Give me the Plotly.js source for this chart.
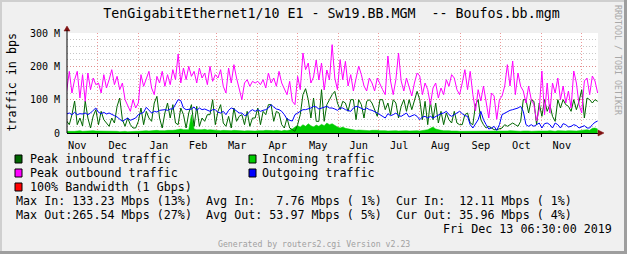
<!DOCTYPE html>
<html>
<head>
<meta charset="utf-8">
<script src="https://cdn.plot.ly/plotly-3.0.1.min.js"></script>
<style>html,body{margin:0;padding:0;background:#f0f0f0;}#chart{width:627px;height:254px;}</style>
</head>
<body>
<div id="chart"></div>
<script>
// ---- data (Mbps), one sample every 2 days starting 2018-11-08 ----
const startDate = '2018-11-08';
const stepDays = 2;
const monthLabels = ['Nov','Dec','Jan','Feb','Mar','Apr','May','Jun','Jul','Aug','Sep','Oct','Nov'];

const peakIn = [
  36,25,55,96,25,45,21,96,45,15,51,70,
  25,65,40,30,20,45,30,80,105,40,20,45,25,15,15,
  35,75,25,65,45,35,90,110,45,15,60,90,45,85,30,25,
  75,55,15,60,85,20,80,20,45,35,55,55,100,25,
  65,85,30,20,50,15,75,35,50,55,25,65,20,45,45,
  75,25,65,55,85,85,35,65,60,25,15,45,15,10,5,
  25,55,115,133,100,45,105,35,35,130,35,85,100,115,125,90,
  70,95,90,65,100,100,40,100,85,45,95,100,90,70,50,
  100,100,70,90,55,100,90,45,80,100,65,100,70,100,125,
  100,40,95,25,95,40,90,30,65,25,60,40,30,65,30,25,
  25,55,60,30,25,85,100,40,25,15,20,15,10,10,12,
  15,25,20,25,30,25,20,35,100,100,60,100,95,25,90,
  50,100,65,85,50,35,100,75,100,85,80,65,100,70,95,
  130,45,105,100,90,100,95
];
const incoming = [
  5,6,5,5,6,7,5,6,5,6,7,6,
  6,5,6,7,6,5,6,5,4,5,5,4,5,4,5,
  5,6,6,7,6,7,6,8,7,6,7,8,7,8,9,10,
  12,10,9,10,55,12,10,9,10,11,9,10,9,8,
  8,7,8,7,6,7,8,7,6,7,6,7,6,7,6,
  7,6,7,8,7,6,7,8,7,6,8,7,9,12,18,
  22,18,25,20,28,22,18,24,20,26,22,30,25,28,22,18,
  15,18,14,12,10,9,8,9,8,7,8,7,8,9,8,
  7,8,7,6,7,8,7,6,7,8,7,6,7,8,7,
  6,7,8,10,14,18,12,9,8,7,8,7,6,7,6,5,
  5,6,5,6,5,4,5,6,5,4,5,4,5,6,5,
  6,5,6,7,6,5,6,5,6,7,6,5,6,5,6,
  6,5,6,7,6,5,7,6,5,6,7,6,5,6,7,
  8,9,10,8,14,15,12
];
const peakOut = [
  125,185,120,160,185,105,175,95,180,130,165,145,
  150,120,175,135,160,190,145,170,130,150,100,80,65,100,75,
  90,175,140,165,185,135,115,170,150,185,140,175,145,190,160,237,
  150,195,160,200,170,185,150,195,165,180,145,200,155,175,
  165,190,140,120,195,150,205,165,130,100,150,160,140,155,150,
  155,145,160,135,180,150,165,140,185,150,130,115,155,95,85,
  170,130,240,190,210,150,168,219,159,210,129,189,159,265,165,130,
  220,160,215,141,175,126,165,201,175,141,126,165,150,126,165,
  145,130,115,231,156,115,160,240,156,126,165,135,111,150,180,
  171,115,150,130,85,135,150,105,135,115,160,140,175,165,130,115,
  150,190,130,185,115,66,130,96,141,90,45,120,111,41,100,
  111,141,205,141,216,115,180,140,126,90,141,100,85,36,70,
  186,55,150,60,150,120,165,100,141,90,126,75,186,150,85,
  60,156,165,115,171,156,120
];
const outgoing = [
  57,60,55,62,55,58,57,60,55,60,68,75,
  62,58,62,57,60,55,52,48,42,35,40,45,38,42,45,
  55,58,62,77,68,60,65,63,68,70,70,68,72,72,85,100,
  97,75,70,70,72,78,68,75,70,72,68,65,70,70,
  62,60,65,55,68,75,72,65,60,60,52,55,65,70,65,
  70,65,68,70,75,85,78,72,70,65,55,42,38,36,55,
  60,65,70,70,72,75,80,78,72,75,78,80,75,75,72,68,
  75,75,70,68,65,75,80,78,75,70,75,70,68,65,60,
  55,50,45,58,52,55,60,52,50,55,60,48,52,55,50,
  40,48,50,45,50,45,50,55,58,60,65,55,50,55,60,65,
  58,52,50,25,15,28,40,65,40,25,12,15,20,8,25,
  55,60,65,68,70,72,75,80,65,25,20,25,20,25,30,
  15,28,30,25,15,30,25,15,28,25,18,20,25,22,15,
  18,22,15,15,25,32,36
];
const yTickVals = [0, 100, 200, 300];
const yTickText = ['0', '100 M', '200 M', '300 M'];

const titleText = 'TenGigabitEthernet1/10 E1 - Sw19.BB.MGM  -- Boufos.bb.mgm';
const legendItems = [
  {label: 'Peak inbound traffic', color: '#006600', col: 0, row: 0},
  {label: 'Incoming traffic', color: '#00cc00', col: 1, row: 0},
  {label: 'Peak outbound traffic', color: '#ff00ff', col: 0, row: 1},
  {label: 'Outgoing traffic', color: '#0000ff', col: 1, row: 1},
  {label: '100% Bandwidth (1 Gbps)', color: '#ff0000', col: 0, row: 2}
];
const statLines = [
  'Max In: 133.23 Mbps (13%)  Avg In:   7.76 Mbps ( 1%)  Cur In:  12.11 Mbps ( 1%)',
  'Max Out:265.54 Mbps (27%)  Avg Out: 53.97 Mbps ( 5%)  Cur Out: 35.96 Mbps ( 4%)'
];
const dateLine = 'Fri Dec 13 06:30:00 2019';
const footer = 'Generated by routers2.cgi Version v2.23';
const watermark = 'RRDTOOL / TOBI OETIKER';

// ---- build ----
const t0 = Date.parse(startDate + 'T00:00:00Z');
const dates = peakOut.map((_, i) => new Date(t0 + i * stepDays * 86400000).toISOString().slice(0, 10));

const W = 627, H = 254, L = 67, R = 598, T = 33, B = 133;
const PX = x => (x - L) / (R - L);
const PY = y => (B - y) / (B - T);
const MONO = 'DejaVu Sans Mono';
const nb = s => s.replace(/ /g, '\u00a0');

const traces = [
  {x: dates, y: incoming, type: 'scatter', mode: 'lines', fill: 'tozeroy',
   line: {color: '#00cc00', width: 0.5}, fillcolor: '#00cc00'},
  {x: dates, y: peakIn, type: 'scatter', mode: 'lines', line: {color: '#006600', width: 1}},
  {x: dates, y: peakOut, type: 'scatter', mode: 'lines', line: {color: '#ff00ff', width: 1}},
  {x: dates, y: outgoing, type: 'scatter', mode: 'lines', line: {color: '#0000ff', width: 1}}
];

const shapes = [];
const annotations = [];
const rowY = [159, 173, 187];
const colSq = [15, 249];
const colTx = [29.5, 262];
legendItems.forEach(it => {
  const y = rowY[it.row];
  shapes.push({type: 'rect', xref: 'paper', yref: 'paper',
    x0: PX(colSq[it.col]), x1: PX(colSq[it.col] + 7), y0: PY(y + 4), y1: PY(y - 4),
    fillcolor: it.color, line: {color: '#000', width: 1}});
  annotations.push({xref: 'paper', yref: 'paper', x: PX(colTx[it.col]), y: PY(y),
    xanchor: 'left', yanchor: 'middle', showarrow: false, text: nb(it.label),
    borderpad: 0, borderwidth: 0, font: {family: MONO, size: 11.7, color: '#000'}});
});
statLines.forEach((s, k) => {
  annotations.push({xref: 'paper', yref: 'paper', x: PX(16), y: PY(201 + 14 * k),
    xanchor: 'left', yanchor: 'middle', showarrow: false, text: nb(s),
    borderpad: 0, borderwidth: 0, font: {family: MONO, size: 11.7, color: '#000'}});
});
annotations.push({xref: 'paper', yref: 'paper', x: PX(611.5), y: PY(229),
  xanchor: 'right', yanchor: 'middle', showarrow: false, text: nb(dateLine),
  borderpad: 0, borderwidth: 0, font: {family: MONO, size: 11.7, color: '#000'}});
annotations.push({xref: 'paper', yref: 'paper', x: PX(313.5), y: PY(243.5),
  xanchor: 'center', yanchor: 'middle', showarrow: false, text: nb(footer),
  borderpad: 0, borderwidth: 0, font: {family: MONO, size: 8.2, color: '#a0a0a0'}});
annotations.push({xref: 'paper', yref: 'paper', x: PX(618), y: PY(60),
  xanchor: 'center', yanchor: 'middle', showarrow: false, text: nb(watermark), textangle: 90,
  borderpad: 0, borderwidth: 0, font: {family: MONO, size: 8.3, color: '#a8a8a8'}});
annotations.push({xref: 'paper', yref: 'paper', x: PX(11), y: PY(82.5),
  xanchor: 'center', yanchor: 'middle', showarrow: false, text: nb('traffic in bps'), textangle: -90,
  borderpad: 0, borderwidth: 0, font: {family: MONO, size: 11.7, color: '#000'}});

// axis arrows
const arrowColor = '#7f1010';
shapes.push({type: 'path', xref: 'paper', yref: 'paper', fillcolor: arrowColor, line: {color: arrowColor, width: 0.5},
  path: `M ${PX(598)} ${PY(130)} L ${PX(604)} ${PY(133)} L ${PX(598)} ${PY(136)} Z`});
shapes.push({type: 'path', xref: 'paper', yref: 'paper', fillcolor: arrowColor, line: {color: arrowColor, width: 0.5},
  path: `M ${PX(64)} ${PY(31)} L ${PX(67)} ${PY(26)} L ${PX(70)} ${PY(31)} Z`});
shapes.push({type: 'line', xref: 'paper', yref: 'paper', x0: PX(67), x1: PX(67), y0: PY(133), y1: PY(30),
  line: {color: '#000', width: 1}});
// frame
shapes.push({type: 'rect', xref: 'paper', yref: 'paper', x0: PX(0), x1: PX(627), y0: PY(254), y1: PY(251),
  fillcolor: '#9e9e9e', line: {width: 0}});
shapes.push({type: 'rect', xref: 'paper', yref: 'paper', x0: PX(624), x1: PX(627), y0: PY(254), y1: PY(0),
  fillcolor: '#9e9e9e', line: {width: 0}});
shapes.push({type: 'rect', xref: 'paper', yref: 'paper', x0: PX(0), x1: PX(624), y0: PY(2), y1: PY(0),
  fillcolor: '#cfcfcf', line: {width: 0}});
shapes.push({type: 'rect', xref: 'paper', yref: 'paper', x0: PX(0), x1: PX(2), y0: PY(251), y1: PY(0),
  fillcolor: '#cfcfcf', line: {width: 0}});

const layout = {
  width: W, height: H,
  margin: {l: L, r: W - R, t: T, b: H - B, pad: 0},
  paper_bgcolor: '#f0f0f0', plot_bgcolor: '#ffffff',
  showlegend: false,
  title: {text: titleText, font: {family: MONO, size: 13.3, color: '#000'},
          x: 331.5 / W, xanchor: 'center', xref: 'container', y: 1 - 13.8 / H, yanchor: 'middle', yref: 'container'},
  xaxis: {type: 'date', range: ['2018-11-08 06:30', '2019-12-13 06:30'],
          dtick: 'M1', tick0: '2018-12-01', tickformat: '%b', ticklabelmode: 'period',
          ticks: 'outside', ticklen: 3, tickcolor: '#000', tickwidth: 1,
          showgrid: true, gridcolor: 'rgba(230,120,120,0.75)', griddash: '1px,2px', gridwidth: 1,
          showline: true, linecolor: '#000', linewidth: 1, zeroline: false,
          tickfont: {family: MONO, size: 10.3, color: '#000'}, fixedrange: true},
  yaxis: {range: [0, 300], tickvals: yTickVals, ticktext: yTickText,
          ticks: '', ticklabelstandoff: 6,
          showgrid: true, gridcolor: 'rgba(230,120,120,0.75)', griddash: '1px,2px', gridwidth: 1,
          minor: {dtick: 20, tick0: 0, showgrid: true, gridcolor: '#c8c8c8', griddash: '1px,2px', gridwidth: 1, ticks: ''},
          showline: false, zeroline: false,
          tickfont: {family: MONO, size: 10, color: '#000'}, fixedrange: true},
  shapes: shapes,
  annotations: annotations
};

Plotly.newPlot('chart', traces, layout, {staticPlot: true, displayModeBar: false});
</script>
</body>
</html>
